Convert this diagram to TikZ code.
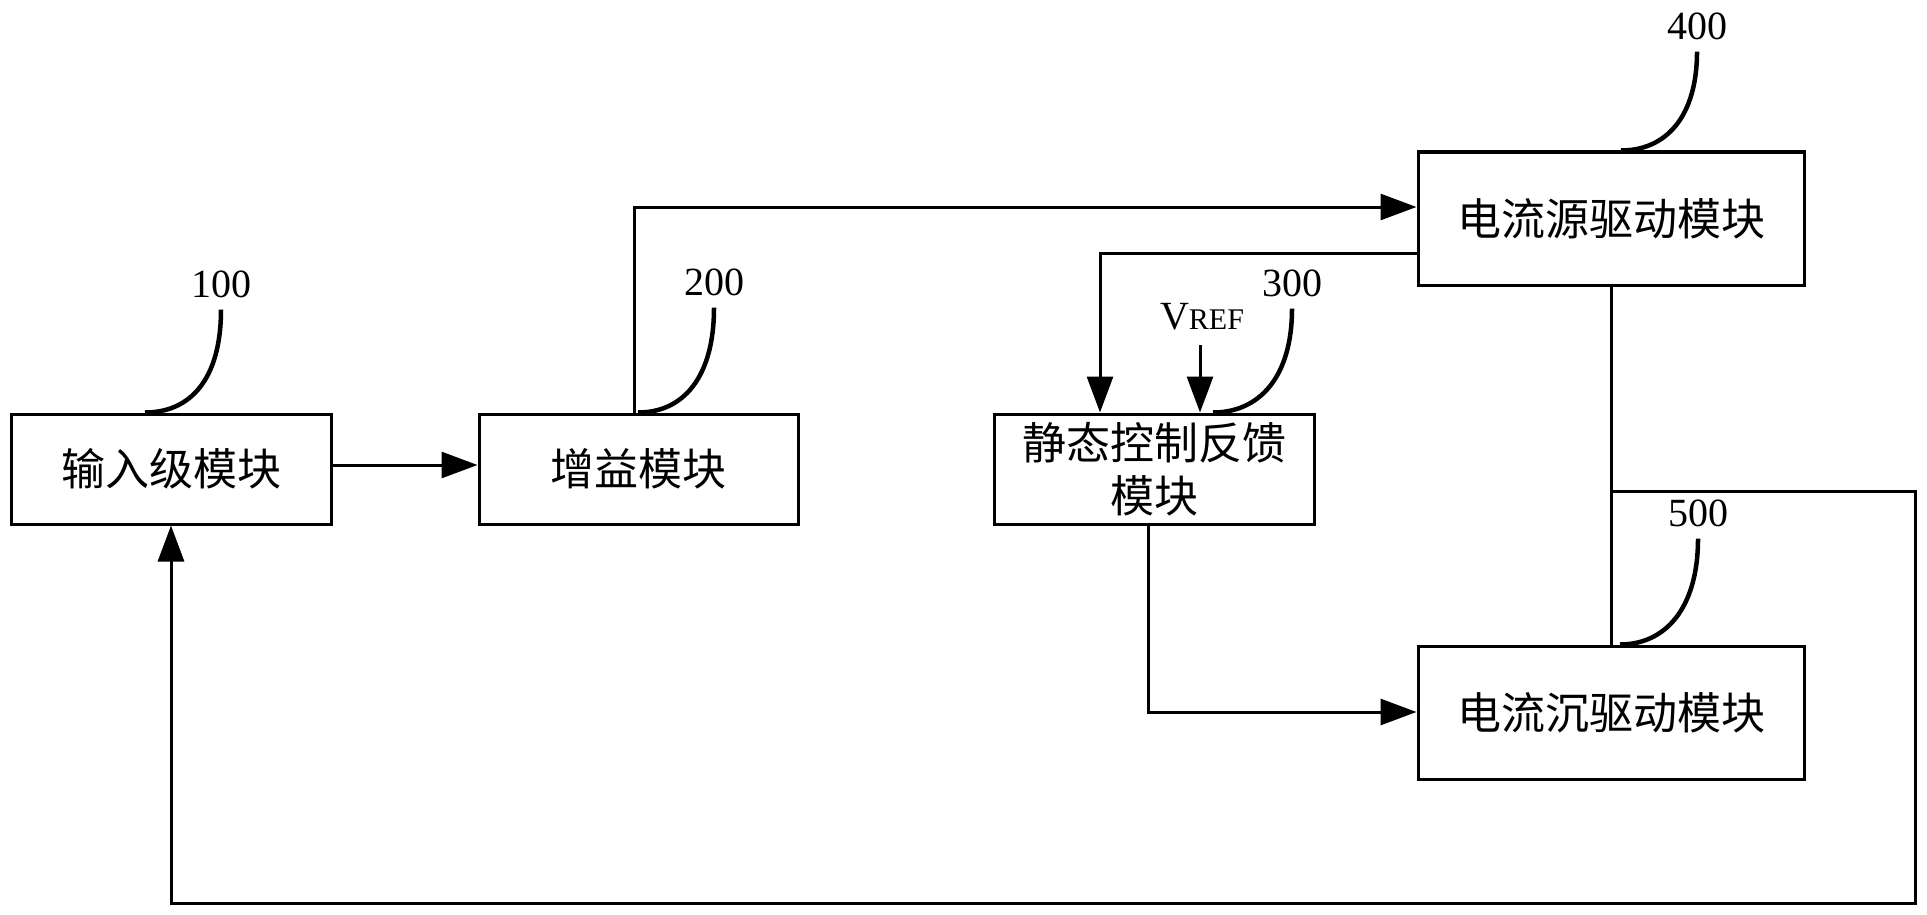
\documentclass[tikz,border=0pt]{standalone}
\usepackage{fontspec}
\setmainfont{Liberation Serif}
\newfontfamily\cjk{Noto Sans CJK SC}
\usetikzlibrary{arrows.meta}
\begin{document}
\begin{tikzpicture}[x=1pt,y=-1pt,
  box/.style={draw, line width=3pt, inner sep=0pt, font=\cjk\fontsize{44}{53}\selectfont, align=center},
  wire/.style={line width=3pt},
  arr/.style={wire, -{Triangle[length=36pt,width=26pt]}},
  lead/.style={line width=4.5pt},
  num/.style={font=\fontsize{40}{40}\selectfont, inner sep=0pt}]
\useasboundingbox (0,0) rectangle (1927,915);
\fill[white] (0,0) rectangle (1927,915);

% blocks
\node[box, minimum width=320pt, minimum height=110pt] (b1) at (171,469) {输入级模块};
\node[box, minimum width=319pt, minimum height=110pt] (b2) at (638.5,469) {增益模块};
\node[box, minimum width=320pt, minimum height=110pt] (b3) at (1154,469) {静态控制反馈\\模块};
\node[box, minimum width=386pt, minimum height=133pt] (b4) at (1611,218.5) {电流源驱动模块};
\node[box, minimum width=386pt, minimum height=133pt] (b5) at (1611,712.5) {电流沉驱动模块};

% reference numerals
\node[num] (l1) at (221,284) {100};
\node[num] (l2) at (714,282) {200};
\node[num] (l3) at (1292,283) {300};
\node[num] (l4) at (1697,26) {400};
\node[num] (l5) at (1698,513) {500};
\node[num] (vref) at (1202,317) {V{\fontsize{30}{30}\selectfont REF}};

% leaders
\draw[lead] ([yshift=-12pt]l1.south) .. controls +(0,70) and +(45,0) .. (b1.north -| 145,0);
\draw[lead] ([yshift=-12pt]l2.south) .. controls +(0,70) and +(45,0) .. (b2.north -| 638,0);
\draw[lead] ([yshift=-12pt]l3.south) .. controls +(0,70) and +(45,0) .. (b3.north -| 1213,0);
\draw[lead] ([yshift=-12pt]l4.south) .. controls +(0,65) and +(45,0) .. (b4.north -| 1621,0);
\draw[lead] ([yshift=-12pt]l5.south) .. controls +(0,70) and +(45,0) .. (b5.north -| 1620,0);

% connectors
\coordinate (vs) at (1200,345);
\coordinate (c1) at (1915,903);
\draw[arr] (b1.east |- 0,465) -- (b2.west |- 0,465);
\draw[arr] (b2.north -| 634,0) |- (b4.west |- 0,207);
\draw[arr] (b4.west |- 0,253) -| (b3.north -| 1100,0);
\draw[arr] (vs) -- (b3.north -| vs);
\draw[arr] (b3.south -| 1148,0) |- (b5.west |- 0,712);
\draw[wire] (b4.south) -- (b5.north);
\draw[arr] (b4.south |- 0,491) -| (c1) -| (b1.south);
\end{tikzpicture}
\end{document}
